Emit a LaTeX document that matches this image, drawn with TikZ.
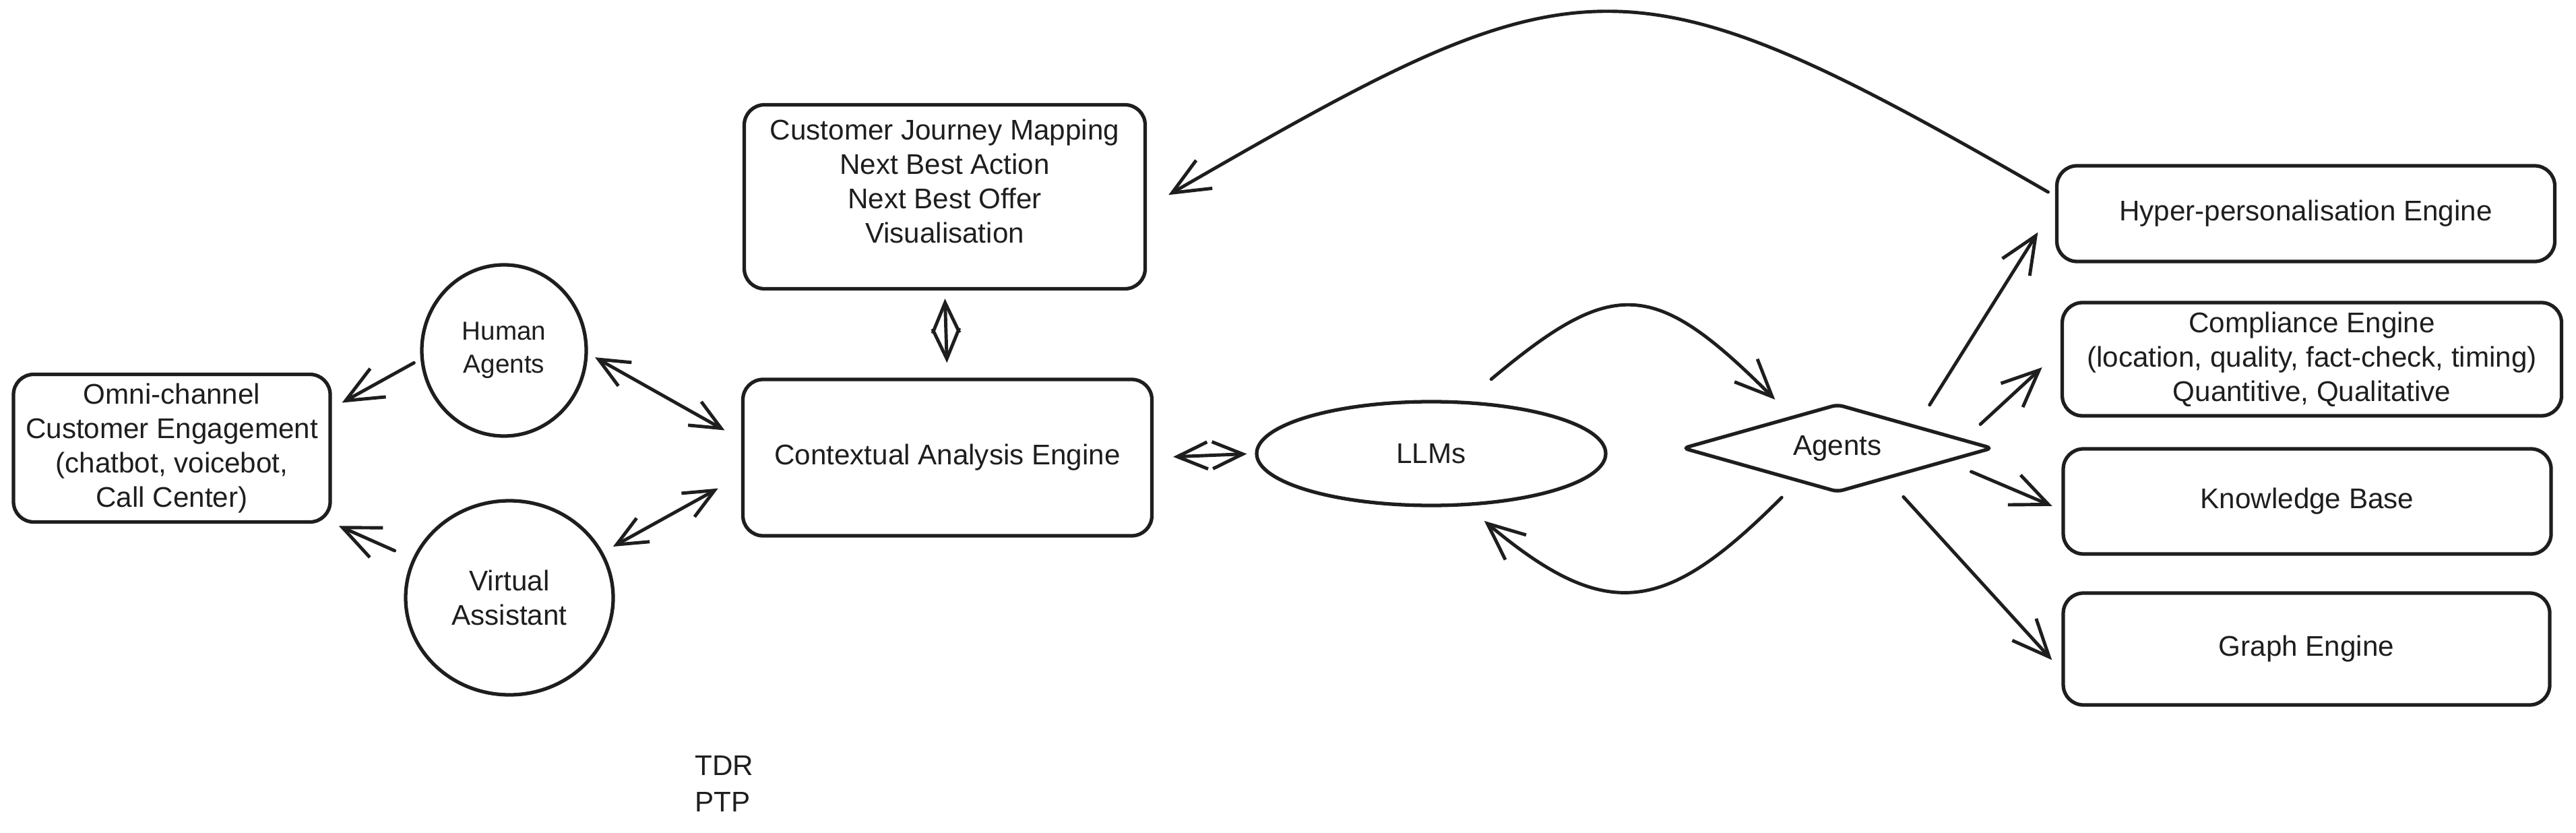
\documentclass[tikz,border=0pt]{standalone}
\usepackage{fontspec}
\setmainfont{Liberation Sans}
\usepackage{xcolor}
\usepackage{tikz}
\usetikzlibrary{shapes.geometric,arrows.meta,positioning}

\definecolor{ink}{HTML}{1E1E1E}

\tikzset{
    box/.style={draw=ink, line width=1.5pt, rounded corners=0.3cm, align=center, inner sep=0pt},
    blob/.style={draw=ink, line width=1.5pt, ellipse, align=center, inner sep=0pt},
    link/.style={draw=ink, line width=1.4pt, line cap=round, line join=round, -{Straight Barb[length=0.55cm,width=0.48cm]}},
    twoway/.style={link, {Straight Barb[length=0.45cm,width=0.4cm]}-{Straight Barb[length=0.45cm,width=0.4cm]}},
}

\begin{document}
\begin{tikzpicture}[font=\fontsize{12}{14.5}\selectfont, text=ink]
    \useasboundingbox (0,0) rectangle (38.23,12.35);

    % Channels
    \node[box, minimum width=4.70cm, minimum height=2.19cm] (omni) at (2.55,5.70) {Omni-channel\\Customer Engagement\\(chatbot, voicebot,\\Call Center)};
    \node[blob, minimum width=2.44cm, minimum height=2.54cm, font=\fontsize{11}{14}\selectfont] (human) at (7.48,7.15) {Human\\Agents};
    \node[blob, minimum width=3.08cm, minimum height=2.88cm] (virtual) at (7.56,3.48) {Virtual\\Assistant};

    % Core
    \node[box, minimum width=5.95cm, minimum height=2.73cm] (journey) at (14.02,9.43) {};
    \node[below=0.12cm of journey.north, align=center] (journeytext) {Customer Journey Mapping\\Next Best Action\\Next Best Offer\\Visualisation};
    \node[box, minimum width=6.07cm, minimum height=2.32cm] (context) at (14.06,5.56) {Contextual Analysis Engine};
    \node[blob, minimum width=5.18cm, minimum height=1.54cm] (llm) at (21.24,5.62) {LLMs};
    \node[draw=ink, line width=1.5pt, diamond, aspect=3.5, rounded corners=0.08cm, minimum width=4.60cm, minimum height=1.31cm, inner sep=0pt] (agents) at (27.27,5.70) {Agents};

    % Engines
    \node[box, minimum width=7.39cm, minimum height=1.42cm] (hyper) at (34.22,9.18) {Hyper-personalisation Engine};
    \node[box, minimum width=7.41cm, minimum height=1.68cm] (compliance) at (34.31,7.02) {Compliance Engine\\(location, quality, fact-check, timing)\\Quantitive, Qualitative};
    \node[box, minimum width=7.24cm, minimum height=1.56cm] (kb) at (34.24,4.91) {Knowledge Base};
    \node[box, minimum width=7.22cm, minimum height=1.66cm] (graph) at (34.23,2.72) {Graph Engine};

    % Notes
    \node[align=left, anchor=west, inner sep=0pt, font=\fontsize{12}{15.3}\selectfont] (notes) at (10.31,0.72) {TDR\\PTP};

    % Links
    \draw[link, shorten <=0.11cm, shorten >=0.17cm] (human.186) -- (omni.14);
    \draw[link, shorten <=0.29cm, shorten >=0.11cm] (virtual.158) -- (omni.-25);
    \draw[twoway, shorten <=0.12cm, shorten >=0.28cm] (human.-2) -- (context.175);
    \draw[twoway, shorten <=0.17cm, shorten >=0.39cm] (virtual.26) -- (context.185);
    \draw[twoway, shorten <=0.12cm, shorten >=0.22cm] (journey.south) -- (context.north);
    \draw[twoway, shorten <=0.29cm, shorten >=0.12cm] (context.east) -- (llm.west);

    % LLM loop
    \draw[link, shorten <=0.5cm, shorten >=0.34cm] (llm.57) to[out=40, in=135, looseness=1.52] (agents.145);
    \draw[link, shorten <=0.32cm, shorten >=0.34cm] (agents.220) to[out=-135, in=-40, looseness=1.43] (llm.-56);

    % Agents fan-out
    \foreach \from/\to/\s/\e in {16/hyper.178/0.36cm/0.48cm, 4/compliance.178/0.33cm/0.37cm, -7/kb.182/0.375cm/0.15cm, -32/graph.185/0.35cm/0.21cm}
        \draw[link, shorten <=\s, shorten >=\e] (agents.\from) -- (\to);

    % Feedback
    \draw[link, shorten <=0.12cm, shorten >=0.37cm] (hyper.176) to[out=150, in=30, looseness=1.41] (journey.-3);
\end{tikzpicture}
\end{document}
